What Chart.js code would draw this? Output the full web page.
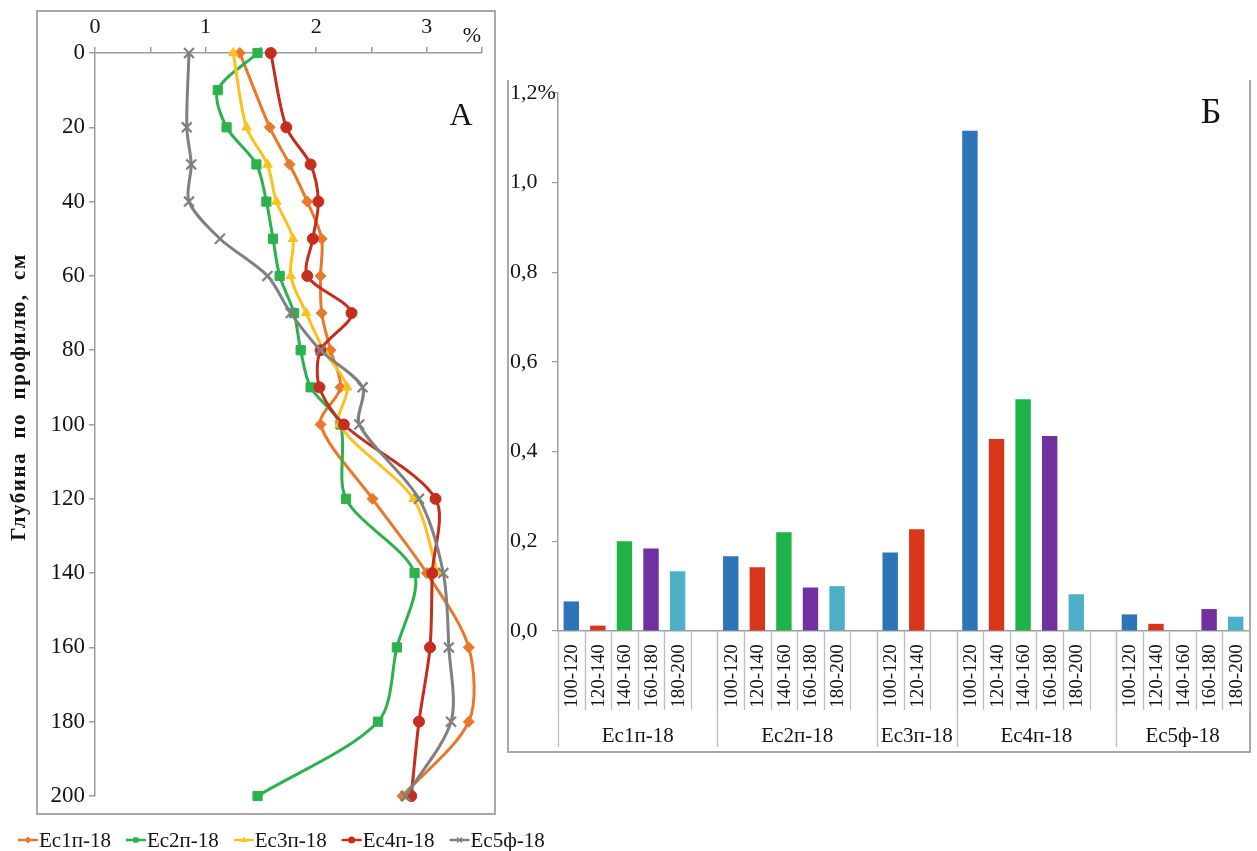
<!DOCTYPE html>
<html>
<head>
<meta charset="utf-8">
<script src="https://cdn.jsdelivr.net/npm/chart.js@4.4.1/dist/chart.umd.min.js"></script>
<style>
  html, body { margin: 0; padding: 0; background: #fff; }
  #wrap { position: relative; width: 1257px; height: 851px; overflow: hidden; background: #fff; }
  #bars { position: absolute; left: 500px; top: 0; z-index: 1; }
  #profile { position: absolute; left: 0; top: 0; z-index: 2; }
</style>
</head>
<body>
<div id="wrap">
  <canvas id="bars" width="757" height="851"></canvas>
  <canvas id="profile" width="560" height="851"></canvas>
</div>
<script>
// ---------- Panel A: content by depth (cm), % ----------
const seriesNames = ['Ес1п-18', 'Ес2п-18', 'Ес3п-18', 'Ес4п-18', 'Ес5ф-18'];

const depthEc1 = [0, 20, 30, 40, 50, 60, 70, 80, 90, 100, 120, 140, 160, 180, 200];
const valEc1   = [1.31, 1.58, 1.76, 1.92, 2.05, 2.04, 2.05, 2.13, 2.22, 2.04, 2.51, 3.00, 3.38, 3.38, 2.78];

const depthEc2 = [0, 10, 20, 30, 40, 50, 60, 70, 80, 90, 100, 120, 140, 160, 180, 200];
const valEc2   = [1.47, 1.11, 1.19, 1.46, 1.55, 1.61, 1.67, 1.80, 1.86, 1.95, 2.22, 2.27, 2.89, 2.73, 2.56, 1.47];

const depthEc3 = [0, 20, 30, 40, 50, 60, 70, 80, 90, 100, 120, 140];
const valEc3   = [1.25, 1.37, 1.56, 1.64, 1.79, 1.77, 1.91, 2.07, 2.28, 2.21, 2.88, 3.10];

const depthEc4 = [0, 20, 30, 40, 50, 60, 70, 80, 90, 100, 120, 140, 160, 180, 200];
const valEc4   = [1.59, 1.73, 1.95, 2.02, 1.97, 1.92, 2.32, 2.04, 2.03, 2.25, 3.08, 3.05, 3.03, 2.93, 2.86];

const depthEc5 = [0, 20, 30, 40, 50, 60, 70, 80, 90, 100, 120, 140, 160, 180, 200];
const valEc5   = [0.85, 0.83, 0.87, 0.85, 1.13, 1.56, 1.77, 2.04, 2.42, 2.39, 2.93, 3.15, 3.20, 3.22, 2.81];

const depthTicks = [0, 20, 40, 60, 80, 100, 120, 140, 160, 180, 200];

// ---------- Panel Б: values by sampling interval ----------
const profiles  = ['Ес1п-18', 'Ес2п-18', 'Ес3п-18', 'Ес4п-18', 'Ес5ф-18'];
const intervals = ['100-120', '120-140', '140-160', '160-180', '180-200'];
// one array per interval, one value per profile (null = interval not sampled)
const v100_120 = [0.066, 0.167, 0.175, 1.116, 0.037];
const v120_140 = [0.012, 0.142, 0.227, 0.428, 0.016];
const v140_160 = [0.200, 0.220, null, 0.517, 0.000];
const v160_180 = [0.184, 0.097, null, 0.435, 0.049];
const v180_200 = [0.133, 0.100, null, 0.082, 0.032];

const SERIF = '"Liberation Serif", "DejaVu Serif", serif';
const TEXT = '#141414';
const FRAME = '#a9a9a9';
const AXIS = '#9d9d9d';

const lineColors = ['#e8792b', '#2bb24c', '#fcc11c', '#c52d1d', '#808080'];
const markers = [
  { style: 'rectRot',  r: 5.5 },
  { style: 'rect',     r: 6.5 },
  { style: 'triangle', r: 5.5 },
  { style: 'circle',   r: 5.5 },
  { style: 'crossRot', r: 7 }
];
const depthSets = [depthEc1, depthEc2, depthEc3, depthEc4, depthEc5];
const valueSets = [valEc1, valEc2, valEc3, valEc4, valEc5];

function drawMarker(ctx, style, x, y, r, color, lw) {
  ctx.save();
  ctx.fillStyle = color;
  ctx.strokeStyle = color;
  ctx.lineWidth = lw;
  ctx.beginPath();
  if (style === 'circle') {
    ctx.arc(x, y, r, 0, Math.PI * 2); ctx.fill();
  } else if (style === 'rect') {
    ctx.fillRect(x - r * 0.75, y - r * 0.75, r * 1.5, r * 1.5);
  } else if (style === 'rectRot') {
    ctx.moveTo(x, y - r); ctx.lineTo(x + r, y); ctx.lineTo(x, y + r); ctx.lineTo(x - r, y);
    ctx.closePath(); ctx.fill();
  } else if (style === 'triangle') {
    ctx.moveTo(x, y - r); ctx.lineTo(x + r * 0.9, y + r * 0.6); ctx.lineTo(x - r * 0.9, y + r * 0.6);
    ctx.closePath(); ctx.fill();
  } else if (style === 'crossRot') {
    const d = r * 0.7;
    ctx.moveTo(x - d, y - d); ctx.lineTo(x + d, y + d);
    ctx.moveTo(x + d, y - d); ctx.lineTo(x - d, y + d);
    ctx.stroke();
  }
  ctx.restore();
}

// frame, axis title, panel letter and legend for panel A
const profileDecor = {
  id: 'profileDecor',
  afterDraw(chart) {
    const ctx = chart.ctx;
    ctx.save();
    ctx.strokeStyle = FRAME;
    ctx.lineWidth = 2;
    ctx.strokeRect(37, 11, 458, 803);

    // vertical axis title
    ctx.save();
    ctx.translate(20, 397);
    ctx.rotate(-Math.PI / 2);
    ctx.fillStyle = TEXT;
    ctx.font = 'bold 21px ' + SERIF;
    ctx.letterSpacing = '1.5px';
    ctx.textAlign = 'center';
    ctx.textBaseline = 'middle';
    ctx.fillText('Глубина  по  профилю,  см', 0, 0);
    ctx.restore();

    ctx.fillStyle = TEXT;
    ctx.font = '22px ' + SERIF;
    ctx.textAlign = 'center';
    ctx.textBaseline = 'middle';
    ctx.fillText('%', 472, 36);

    ctx.font = '32px ' + SERIF;
    ctx.fillText('A', 461, 117);

    // legend
    ctx.font = '21px ' + SERIF;
    ctx.textAlign = 'left';
    let x = 18;
    const y = 840;
    seriesNames.forEach((name, i) => {
      ctx.strokeStyle = lineColors[i];
      ctx.lineWidth = 2.5;
      ctx.beginPath();
      ctx.moveTo(x, y); ctx.lineTo(x + 20, y);
      ctx.stroke();
      drawMarker(ctx, markers[i].style, x + 10, y, 3.5, lineColors[i], 1.5);
      ctx.fillStyle = TEXT;
      ctx.fillText(name, x + 21, y + 1);
      x += 21 + ctx.measureText(name).width + 15;
    });
    ctx.restore();
  }
};

new Chart(document.getElementById('profile'), {
  type: 'scatter',
  data: {
    datasets: seriesNames.map((name, i) => ({
      label: name,
      data: depthSets[i].map((d, k) => ({ x: valueSets[i][k], y: d })),
      showLine: true,
      borderColor: lineColors[i],
      backgroundColor: lineColors[i],
      borderWidth: 3,
      tension: 0.3,
      pointStyle: markers[i].style,
      pointRadius: markers[i].r,
      pointBackgroundColor: lineColors[i],
      pointBorderColor: lineColors[i],
      pointBorderWidth: markers[i].style === 'crossRot' ? 2.2 : 1,
      clip: false,
      order: 4 - i
    }))
  },
  options: {
    responsive: false,
    devicePixelRatio: 1,
    animation: false,
    events: [],
    layout: { padding: { left: 0, right: 78, top: 0, bottom: 55 } },
    plugins: { legend: { display: false }, tooltip: { enabled: false } },
    scales: {
      x: {
        type: 'linear',
        position: 'top',
        min: 0,
        max: 3.5,
        afterFit: s => { s.height = 53; },
        grid: { drawOnChartArea: false, drawTicks: true, tickLength: 6, color: AXIS, lineWidth: 1.5 },
        border: { display: true, color: AXIS, width: 1.5 },
        ticks: {
          stepSize: 0.5,
          autoSkip: false,
          maxRotation: 0,
          padding: 7,
          color: TEXT,
          font: { family: SERIF, size: 22 },
          callback: v => Number.isInteger(v) ? String(v) : ''
        }
      },
      y: {
        type: 'linear',
        reverse: true,
        min: 0,
        max: 200,
        afterFit: s => { s.width = 95; },
        afterBuildTicks: s => { s.ticks = depthTicks.map(v => ({ value: v })); },
        grid: { drawOnChartArea: false, drawTicks: true, tickLength: 6, color: AXIS, lineWidth: 1.5 },
        border: { display: true, color: AXIS, width: 1.5 },
        ticks: {
          padding: 4,
          color: TEXT,
          font: { family: SERIF, size: 23 }
        }
      }
    }
  },
  plugins: [profileDecor]
});

// ---------- Panel Б ----------
const barColors = ['#2e74b8', '#d8351b', '#20b34a', '#7030a0', '#4eafc8'];
const intervalValues = [v100_120, v120_140, v140_160, v160_180, v180_200];

// category slots: each profile's sampled intervals, then one empty slot as a gap
const slots = [];
profiles.forEach((p, pi) => {
  intervals.forEach((iv, k) => {
    if (intervalValues[k][pi] !== null) slots.push({ p: pi, k: k });
  });
  if (pi < profiles.length - 1) slots.push(null);
});
const slotLabels = slots.map(s => s ? profiles[s.p] + ' ' + intervals[s.k] : '');

// two-level category axis (interval labels + profile names) and frame
const barsDecor = {
  id: 'barsDecor',
  afterDraw(chart) {
    const ctx = chart.ctx;
    const xs = chart.scales.x;
    const area = chart.chartArea;
    const half = (xs.getPixelForValue(1) - xs.getPixelForValue(0)) / 2;
    const y0 = area.bottom;
    ctx.save();

    // frame
    ctx.strokeStyle = FRAME;
    ctx.lineWidth = 2;
    ctx.beginPath();
    ctx.moveTo(8, 80); ctx.lineTo(8, 752); ctx.lineTo(750, 752); ctx.lineTo(750, 80);
    ctx.stroke();

    ctx.strokeStyle = '#bdbdbd';
    ctx.lineWidth = 1.2;
    ctx.fillStyle = TEXT;

    // interval boxes and rotated labels
    slots.forEach((s, i) => {
      if (!s) return;
      const cx = xs.getPixelForValue(i);
      ctx.beginPath();
      ctx.moveTo(Math.round(cx - half) + 0.5, y0); ctx.lineTo(Math.round(cx - half) + 0.5, 710);
      ctx.moveTo(Math.round(cx + half) + 0.5, y0); ctx.lineTo(Math.round(cx + half) + 0.5, 710);
      ctx.stroke();
      ctx.save();
      ctx.translate(cx, 676);
      ctx.rotate(-Math.PI / 2);
      ctx.font = '19px ' + SERIF;
      ctx.textAlign = 'center';
      ctx.textBaseline = 'middle';
      ctx.fillText(intervals[s.k], 0, 1);
      ctx.restore();
    });

    // profile groups
    let start = 0;
    profiles.forEach((p, pi) => {
      let end = start;
      while (end < slots.length && slots[end] !== null) end++;
      const last = end < slots.length ? end : end - 1; // gap slot belongs to the group
      const left = xs.getPixelForValue(start) - half;
      const right = xs.getPixelForValue(last) + half;
      ctx.beginPath();
      ctx.moveTo(Math.round(left) + 0.5, y0); ctx.lineTo(Math.round(left) + 0.5, 747);
      if (pi < profiles.length - 1) {
        ctx.moveTo(Math.round(right) + 0.5, y0); ctx.lineTo(Math.round(right) + 0.5, 747);
      }
      ctx.stroke();
      ctx.font = '21px ' + SERIF;
      ctx.textAlign = 'center';
      ctx.textBaseline = 'middle';
      ctx.fillText(p, (left + right) / 2, 736);
      start = last + 1;
    });

    ctx.font = '36px ' + SERIF;
    ctx.textAlign = 'center';
    ctx.textBaseline = 'middle';
    ctx.fillText('Б', 711, 114);
    ctx.restore();
  }
};

new Chart(document.getElementById('bars'), {
  type: 'bar',
  data: {
    labels: slotLabels,
    datasets: intervals.map((iv, k) => ({
      label: iv,
      data: slots.map(s => (s && s.k === k) ? intervalValues[k][s.p] : null),
      backgroundColor: barColors[k],
      borderWidth: 0,
      barPercentage: 0.58,
      categoryPercentage: 1
    }))
  },
  options: {
    responsive: false,
    devicePixelRatio: 1,
    animation: false,
    events: [],
    layout: { padding: { left: 10, right: 8, top: 93, bottom: 220 } },
    plugins: { legend: { display: false }, tooltip: { enabled: false } },
    scales: {
      x: {
        stacked: true,
        afterFit: s => { s.height = 0; },
        ticks: { display: false },
        grid: { display: false },
        border: { display: true, color: AXIS, width: 1.5 }
      },
      y: {
        stacked: true,
        min: 0,
        max: 1.2,
        afterFit: s => { s.width = 48; },
        grid: { drawOnChartArea: false, drawTicks: true, tickLength: 6, color: AXIS, lineWidth: 1.2 },
        border: { display: true, color: AXIS, width: 1.5 },
        ticks: {
          stepSize: 0.2,
          crossAlign: 'far',
          color: TEXT,
          font: { family: SERIF, size: 22 },
          callback: v => {
            const t = v.toFixed(1).replace('.', ',');
            return Math.abs(v - 1.2) < 1e-6 ? t + '%' : t;
          }
        }
      }
    }
  },
  plugins: [barsDecor]
});
</script>
</body>
</html>
